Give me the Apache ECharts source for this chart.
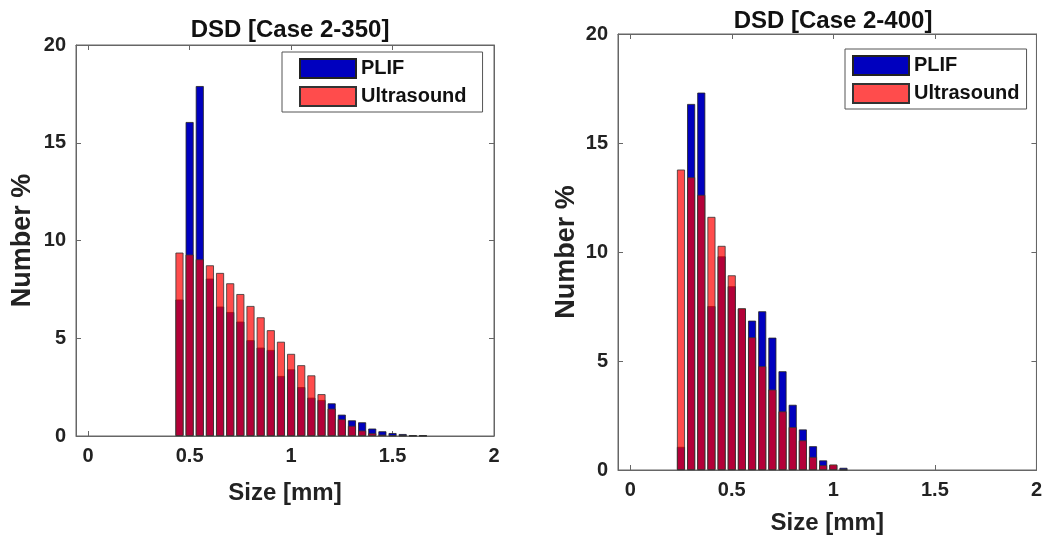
<!DOCTYPE html>
<html>
<head>
<meta charset="utf-8">
<script src="https://cdn.jsdelivr.net/npm/echarts@6/dist/echarts.min.js"></script>
<style>html,body{margin:0;padding:0;background:#fff}#c{width:1045px;height:541px}</style>
</head>
<body>
<div id="c"></div>
<script>
// ---- data ----
var sizesA = [0.45,0.50,0.55,0.60,0.65,0.70,0.75,0.80,0.85,0.90,0.95,1.00,1.05,1.10,1.15,1.20,1.25,1.30,1.35,1.40,1.45,1.50,1.55,1.60,1.65];
var plifA  = [6.98,16.06,17.9,8.05,6.62,6.34,5.85,4.9,4.52,4.4,3.07,3.41,2.5,1.96,1.84,1.67,1.09,0.8,0.70,0.38,0.24,0.15,0.1,0.04,0.04];
var usA    = [9.38,9.28,9.04,8.73,8.34,7.81,7.26,6.65,6.07,5.41,4.82,4.2,3.62,3.1,2.14,1.4,0.86,0.52,0.28,0.14,0.07,0.03,0.02,0.01,0.01];

var sizesB = [0.25,0.30,0.35,0.40,0.45,0.50,0.55,0.60,0.65,0.70,0.75,0.80,0.85,0.90,0.95,1.00,1.05];
var plifB  = [1.06,16.79,17.31,7.52,9.8,8.43,7.4,6.85,7.28,6.07,4.53,2.99,1.86,1.09,0.44,0.23,0.1];
var usB    = [13.78,13.43,12.62,11.61,10.28,8.93,7.42,6.09,4.76,3.69,2.69,1.97,1.36,0.6,0.22,0.25,0.01];

var xTicks = [0,0.5,1,1.5,2];
var titles = ['DSD [Case 2-350]','DSD [Case 2-400]'];

// ---- chart ----
var FONT = '"Liberation Sans", Arial, sans-serif';
var AX = '#666';
function pairs(xs, ys){ return xs.map(function(x,i){ return [x, ys[i]]; }); }

var grids = [
  {left:76, top:45, width:418, height:391, show:true, borderColor:AX, borderWidth:1, backgroundColor:'transparent'},
  {left:618, top:34, width:419, height:436, show:true, borderColor:AX, borderWidth:1, backgroundColor:'transparent'}
];
var xAxes = [], yAxes = [], series = [];
var xNameGap = [45, 41], yNameGap = [40, 38];
grids.forEach(function(g, i){
  xAxes.push({
    gridIndex:i, type:'value', min:-0.06, max:2, position:'bottom',
    name:'Size [mm]', nameLocation:'middle', nameGap:xNameGap[i],
    nameTextStyle:{fontFamily:FONT, fontWeight:'bold', fontSize:24, color:'#222'},
    axisLine:{onZero:false, lineStyle:{color:AX, width:1}},
    axisTick:{inside:true, length:5, customValues:xTicks, lineStyle:{color:AX}},
    axisLabel:{customValues:xTicks, margin:10, fontFamily:FONT, fontWeight:'bold', fontSize:20, color:'#222'},
    splitLine:{show:false}
  });
  xAxes.push({
    gridIndex:i, type:'value', min:-0.06, max:2, position:'top',
    axisLine:{show:true, onZero:false, lineStyle:{color:AX, width:1}},
    axisTick:{show:true, inside:true, length:5, customValues:xTicks, lineStyle:{color:AX}},
    axisLabel:{show:false}, splitLine:{show:false}
  });
  yAxes.push({
    gridIndex:i, type:'value', min:0, max:20, interval:5, position:'left',
    name:'Number %', nameLocation:'middle', nameGap:yNameGap[i],
    nameTextStyle:{fontFamily:FONT, fontWeight:'bold', fontSize:27, color:'#222'},
    axisLine:{show:true, onZero:false, lineStyle:{color:AX, width:1}},
    axisTick:{show:true, inside:true, length:5, lineStyle:{color:AX}},
    axisLabel:{margin:10, fontFamily:FONT, fontWeight:'bold', fontSize:20, color:'#222'},
    splitLine:{show:false}
  });
  yAxes.push({
    gridIndex:i, type:'value', min:0, max:20, interval:5, position:'right',
    axisLine:{show:true, onZero:false, lineStyle:{color:AX, width:1}},
    axisTick:{show:true, inside:true, length:5, lineStyle:{color:AX}},
    axisLabel:{show:false}, splitLine:{show:false}
  });
});

var dataSets = [[sizesA, plifA, usA],[sizesB, plifB, usB]];
dataSets.forEach(function(d, i){
  series.push({
    name:'PLIF', type:'bar', xAxisIndex:2*i, yAxisIndex:2*i,
    data:pairs(d[0], d[1]), barWidth:8, barGap:'-100%',
    itemStyle:{color:'#0000BF', borderColor:'#222', borderWidth:0.8},
    emphasis:{disabled:true}
  });
  series.push({
    name:'Ultrasound', type:'bar', xAxisIndex:2*i, yAxisIndex:2*i,
    data:pairs(d[0], d[2]), barWidth:8, barGap:'-100%',
    itemStyle:{color:'rgba(255,0,0,0.7)', borderColor:'#333', borderWidth:0.8},
    emphasis:{disabled:true}
  });
});

var legendCommon = {
  orient:'vertical', itemWidth:56, itemHeight:19, itemGap:7, selectedMode:false, icon:'rect',
  borderColor:'#555', borderWidth:1, backgroundColor:'#fff',
  textStyle:{fontFamily:FONT, fontWeight:'bold', fontSize:20, color:'#111'},
  data:['PLIF','Ultrasound']
};
var legends = [
  Object.assign({}, legendCommon, {left:282, top:52, padding:[6,16,5,17]}),
  Object.assign({}, legendCommon, {left:845, top:49, padding:[6,7,5,7]})
];

var chart = echarts.init(document.getElementById('c'), null, {renderer:'canvas'});
chart.setOption({
  animation:false,
  backgroundColor:'#fff',
  title:[
    {text:titles[0], left:285, top:13, textAlign:'center', textStyle:{fontFamily:FONT, fontWeight:'bold', fontSize:24, color:'#111'}},
    {text:titles[1], left:828, top:4, textAlign:'center', textStyle:{fontFamily:FONT, fontWeight:'bold', fontSize:24, color:'#111'}}
  ],
  legend:legends,
  grid:grids,
  xAxis:xAxes,
  yAxis:yAxes,
  series:series
});
</script>
</body>
</html>
